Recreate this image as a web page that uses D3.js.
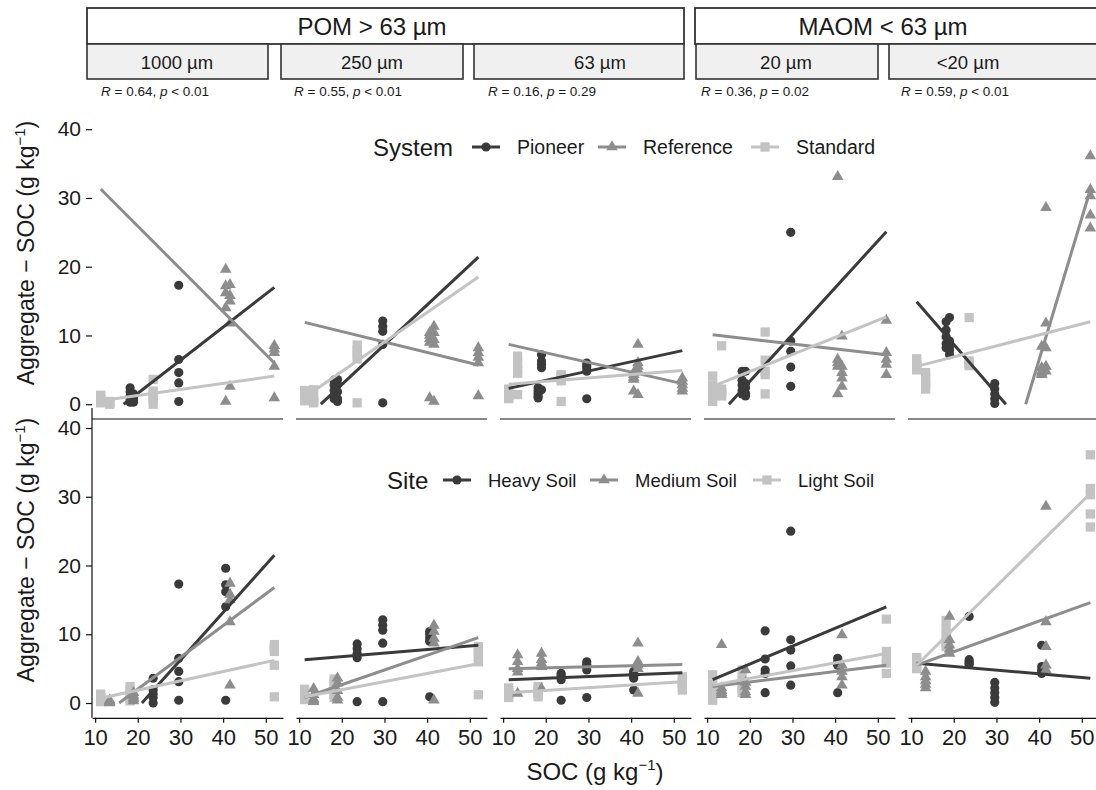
<!DOCTYPE html>
<html>
<head>
<meta charset="utf-8">
<script src="https://cdn.jsdelivr.net/npm/d3@7"></script>
<style>
body { margin: 0; background: #fff; }
text { font-family: "Liberation Sans", Arial, sans-serif; fill: #1a1a1a; }
</style>
</head>
<body>
<svg id="chart" width="1096" height="790"></svg>
<script>
// ---- data ----
var fractions = ['1000 µm', '250 µm', '63 µm', '20 µm', '<20 µm'];
var poolHeaders = ['POM > 63 µm', 'MAOM < 63 µm'];
var corrR = ['0.64', '0.55', '0.16', '0.36', '0.59'];
var corrP = ['< 0.01', '< 0.01', '= 0.29', '= 0.02', '< 0.01'];
var xTicks = [10, 20, 30, 40, 50];
var yTicks = [0, 10, 20, 30, 40];
var systems = ['Pioneer', 'Reference', 'Standard'];
var sites = ['Heavy Soil', 'Medium Soil', 'Light Soil'];

// one entry per site x system combination (bulk SOC, g/kg)
var socGroup = [11.3, 13.4, 18.2, 19.0, 23.6, 29.6, 40.6, 41.6, 52.0];
var siteGroup = ['Light Soil', 'Medium Soil', 'Light Soil', 'Medium Soil', 'Heavy Soil', 'Heavy Soil', 'Heavy Soil', 'Medium Soil', 'Light Soil'];
var systemGroup = ['Standard', 'Standard', 'Pioneer', 'Pioneer', 'Standard', 'Pioneer', 'Reference', 'Reference', 'Reference'];

// aggregate SOC, 5 replicates per group, same order as socGroup
var agg1000 = [[1.3, 1.0, 0.7, 0.4, 0.2], [0.4, 0.3, 0.2, 0.1, 0.0], [2.4, 1.8, 1.2, 0.6, 0.3], [1.5, 1.1, 0.8, 0.6, 0.3],
  [3.6, 1.9, 1.3, 0.8, 0.0], [17.3, 6.5, 4.6, 3.1, 0.4], [19.6, 17.2, 16.2, 14.0, 0.4], [17.4, 15.8, 15.0, 11.8, 2.6], [8.5, 8.0, 7.5, 5.5, 0.9]];
var agg250 = [[2.0, 1.5, 1.0, 0.7, 0.5], [2.1, 1.2, 0.6, 0.4, 0.2], [3.5, 2.8, 2.0, 1.2, 0.8], [3.6, 2.9, 1.8, 0.8, 0.4],
  [8.6, 7.9, 7.2, 6.6, 0.2], [12.1, 11.3, 10.6, 8.7, 0.2], [10.4, 10.0, 9.5, 9.0, 0.9], [11.3, 10.4, 9.4, 8.7, 0.4], [8.2, 7.5, 6.8, 6.0, 1.2]];
var agg63 = [[2.2, 1.8, 1.4, 1.0, 0.8], [7.0, 6.0, 5.0, 4.5, 1.4], [2.4, 2.0, 1.6, 1.2, 0.9], [7.2, 6.3, 5.8, 5.3, 2.1],
  [4.3, 4.0, 3.7, 3.4, 0.4], [6.0, 5.6, 5.3, 4.8, 0.8], [4.6, 4.3, 3.9, 3.6, 1.9], [8.7, 6.0, 5.5, 5.0, 1.4], [3.8, 3.3, 2.8, 2.3, 1.9]];
var agg20 = [[4.1, 2.8, 1.9, 1.2, 0.4], [8.5, 2.2, 1.8, 1.5, 1.2], [4.8, 3.5, 2.8, 2.0, 1.5], [4.8, 3.0, 2.4, 1.6, 1.2],
  [10.5, 6.4, 4.8, 4.3, 1.5], [25.0, 9.2, 7.7, 5.4, 2.6], [33.1, 6.5, 6.0, 5.5, 1.5], [9.9, 5.5, 4.6, 3.8, 2.6], [12.2, 7.5, 6.5, 5.8, 4.3]];
var aggLt20 = [[6.6, 6.2, 5.8, 5.4, 5.0], [4.6, 3.8, 3.2, 2.7, 2.2], [12.0, 10.8, 9.8, 8.8, 8.2], [12.6, 9.2, 8.4, 7.8, 7.2],
  [12.6, 6.3, 6.0, 5.8, 5.6], [3.0, 2.2, 1.5, 0.8, 0.1], [8.4, 5.3, 4.8, 4.5, 4.3], [28.6, 11.8, 8.2, 5.5, 4.8], [36.1, 31.2, 30.3, 27.5, 25.6]];
var aggByFraction = [agg1000, agg250, agg63, agg20, aggLt20];

// linear fits: [fitted value at SOC 11.3, fitted value at SOC 52]
var fitRange = [11.3, 52.0];
var fitSystem = [ // Pioneer, Reference, Standard
  [[-2.6, 17.0], [31.3, 6.0], [0.5, 4.1]],
  [[-2.2, 21.4], [11.9, 5.7], [1.0, 18.5]],
  [[2.3, 7.8], [8.7, 3.0], [2.9, 4.9]],
  [[-2.6, 25.1], [10.1, 7.2], [2.6, 12.7]],
  [[14.9, -14.1], [-52.6, 31.2], [5.5, 12.0]]
];
var fitSite = [ // Heavy, Medium, Light
  [[-6.7, 21.5], [-2.0, 16.8], [0.7, 6.2]],
  [[6.3, 8.4], [0.8, 9.5], [0.9, 5.7]],
  [[3.4, 4.4], [5.0, 5.6], [1.5, 3.1]],
  [[3.4, 14.0], [2.4, 5.5], [2.6, 7.2]],
  [[5.8, 3.6], [5.5, 14.6], [5.5, 30.5]]
];

// ---- layout ----
var svg = d3.select('#chart');
var panelLeft = [92, 296, 500, 704, 908];
var panelW = 191;
var rowBox = [{top: 93.8, bottom: 419}, {top: 392.6, bottom: 717.8}];
var greys = ['#3a3a3a', '#8d8d8d', '#c3c3c3'];

var x = d3.scaleLinear().domain([9.27, 54.03]).range([0, panelW]);
var yRow = rowBox.map(function(r) {
	return d3.scaleLinear().domain([-2.15, 45.15]).range([r.bottom, r.top]);
});

var colorSystem = d3.scaleOrdinal().domain(systems).range(greys);
var colorSite = d3.scaleOrdinal().domain(sites).range(greys);
var shapes = [d3.symbolCircle, d3.symbolTriangle, d3.symbolSquare];
var shapeSize = [66, 58, 86];

// legend placement (title x, key x's, label size)
var legendLayout = [
	{cy: 147, titleX: 373, keyX: [472, 598, 751], labelSize: 19.5},
	{cy: 480, titleX: 387, keyX: [443, 590, 753], labelSize: 18.5}
];

function symbolPath(idx) {
	return d3.symbol().type(shapes[idx]).size(shapeSize[idx])();
}

function fitSegment(ends) {
	var x0 = fitRange[0], x1 = fitRange[1], y0 = ends[0], y1 = ends[1];
	var a = [x0, y0], b = [x1, y1];
	if (y0 < 0) a = [x0 + (0 - y0) / (y1 - y0) * (x1 - x0), 0];
	if (y1 < 0) b = [x0 + (0 - y0) / (y1 - y0) * (x1 - x0), 0];
	return [a, b];
}

function panelPoints(fi) {
	var pts = [];
	aggByFraction[fi].forEach(function(reps, gi) {
		reps.forEach(function(v) {
			pts.push({soc: socGroup[gi], agg: v, system: systemGroup[gi], site: siteGroup[gi]});
		});
	});
	return pts;
}

function drawRow(row) {
	var y = yRow[row];
	var keyField = row === 0 ? 'system' : 'site';
	var keys = row === 0 ? systems : sites;
	var color = row === 0 ? colorSystem : colorSite;
	var fits = row === 0 ? fitSystem : fitSite;

	fractions.forEach(function(f, fi) {
		var g = svg.append('g').attr('transform', 'translate(' + panelLeft[fi] + ',0)');

		g.selectAll('path.pt')
			.data(panelPoints(fi))
			.enter()
			.append('path')
			.attr('class', 'pt')
			.attr('d', function(d) { return symbolPath(keys.indexOf(d[keyField])); })
			.attr('transform', function(d) { return 'translate(' + x(d.soc) + ',' + y(d.agg) + ')'; })
			.style('fill', function(d) { return color(d[keyField]); });

		var line = d3.line().x(function(d) { return x(d[0]); }).y(function(d) { return y(d[1]); });
		g.selectAll('path.fit')
			.data(fits[fi])
			.enter()
			.append('path')
			.attr('class', 'fit')
			.attr('d', function(d) { return line(fitSegment(d)); })
			.style('fill', 'none')
			.style('stroke-width', 3)
			.style('stroke', function(d, i) { return greys[i]; });

		if (row === 1) {
			var ax = g.append('g')
				.attr('transform', 'translate(0,' + rowBox[1].bottom + ')')
				.call(d3.axisBottom(x).tickValues(xTicks).tickSize(5).tickSizeOuter(0).tickPadding(7));
			ax.selectAll('text').style('font-size', '22px').style('fill', '#1a1a1a');
			ax.selectAll('line, path').style('stroke', '#111').style('stroke-width', 1.2);
		} else {
			g.append('line')
				.attr('x1', 0).attr('x2', panelW)
				.attr('y1', rowBox[0].bottom).attr('y2', rowBox[0].bottom)
				.style('stroke', '#111').style('stroke-width', 1.2);
		}
	});

	// y axis on first panel only
	var ay = svg.append('g')
		.attr('transform', 'translate(' + panelLeft[0] + ',0)')
		.call(d3.axisLeft(y).tickValues(yTicks).tickSize(6).tickPadding(5));
	ay.select('.domain').remove();
	ay.selectAll('text').style('font-size', '21px').style('fill', '#1a1a1a');
	ay.selectAll('line').style('stroke', '#111').style('stroke-width', 1.2);
	if (row === 1) {
		svg.append('line')
			.attr('x1', panelLeft[0]).attr('x2', panelLeft[0])
			.attr('y1', 408).attr('y2', rowBox[1].bottom)
			.style('stroke', '#111').style('stroke-width', 1.2);
	}

	// y title
	var cy = row === 0 ? 253 : 550;
	var t = svg.append('text')
		.attr('transform', 'translate(34,' + cy + ') rotate(-90)')
		.attr('text-anchor', 'middle')
		.style('font-size', '23px');
	t.append('tspan').text('Aggregate \u2212 SOC (g kg');
	t.append('tspan').attr('dy', -9).style('font-size', '15px').text('\u22121');
	t.append('tspan').attr('dy', 9).text(')');

	drawLegend(row, keys, color);
}

function drawLegend(row, keys, color) {
	var L = legendLayout[row];
	var lg = svg.append('g');
	var bg = lg.append('rect').style('fill', '#fff');
	lg.append('text')
		.attr('x', L.titleX).attr('y', L.cy).attr('dy', '0.36em')
		.style('font-size', '24px')
		.text(row === 0 ? 'System' : 'Site');
	var right = 0;
	keys.forEach(function(k, i) {
		var kx = L.keyX[i];
		lg.append('line')
			.attr('x1', kx).attr('x2', kx + 28)
			.attr('y1', L.cy).attr('y2', L.cy)
			.style('stroke', color(k)).style('stroke-width', 3);
		lg.append('path')
			.attr('d', symbolPath(i))
			.attr('transform', 'translate(' + (kx + 14) + ',' + L.cy + ')')
			.style('fill', color(k));
		var lab = lg.append('text')
			.attr('x', kx + 45).attr('y', L.cy).attr('dy', '0.36em')
			.style('font-size', L.labelSize + 'px')
			.text(k);
		right = kx + 45 + lab.node().getComputedTextLength();
	});
	bg.attr('x', L.titleX - 6).attr('y', L.cy - 15).attr('width', right - L.titleX + 12).attr('height', 30);
}

drawRow(1);
// top row sits over the bottom one
svg.append('rect').attr('x', 0).attr('y', 0).attr('width', 1096).attr('height', 407).style('fill', '#fff');
drawRow(0);

// header boxes and strips
var headerBox = [[87, 684], [695, 1100]];
var headerTextX = [372, 883];
headerBox.forEach(function(b, i) {
	svg.append('rect')
		.attr('x', b[0]).attr('y', 8).attr('width', b[1] - b[0]).attr('height', 36)
		.style('fill', '#fff').style('stroke', '#333').style('stroke-width', 1.8);
	svg.append('text')
		.attr('x', headerTextX[i]).attr('y', 26).attr('dy', '0.36em')
		.attr('text-anchor', 'middle')
		.style('font-size', '24px')
		.text(poolHeaders[i]);
});

var stripBox = [[87, 268], [281, 463], [474, 684], [696, 878], [889, 1100]];
var stripTextX = [177, 372, 600, 786, 968];
stripBox.forEach(function(b, i) {
	svg.append('rect')
		.attr('x', b[0]).attr('y', 44).attr('width', b[1] - b[0]).attr('height', 35)
		.style('fill', '#f0f0f0').style('stroke', '#333').style('stroke-width', 1.6);
	svg.append('text')
		.attr('x', stripTextX[i]).attr('y', 62).attr('dy', '0.36em')
		.attr('text-anchor', 'middle')
		.style('font-size', '18.5px')
		.text(fractions[i]);
});

// correlation labels
var corrX = [101, 294, 488, 701, 901];
corrR.forEach(function(r, i) {
	var t = svg.append('text').attr('x', corrX[i]).attr('y', 96).style('font-size', '13.5px');
	t.append('tspan').style('font-style', 'italic').text('R');
	t.append('tspan').text(' = ' + r + ', ');
	t.append('tspan').style('font-style', 'italic').text('p');
	t.append('tspan').text(' ' + corrP[i]);
});

// x title
var xt = svg.append('text')
	.attr('x', 595).attr('y', 780)
	.attr('text-anchor', 'middle')
	.style('font-size', '24px');
xt.append('tspan').text('SOC (g kg');
xt.append('tspan').attr('dy', -10).style('font-size', '15px').text('\u22121');
xt.append('tspan').attr('dy', 10).text(')');
</script>
</body>
</html>
